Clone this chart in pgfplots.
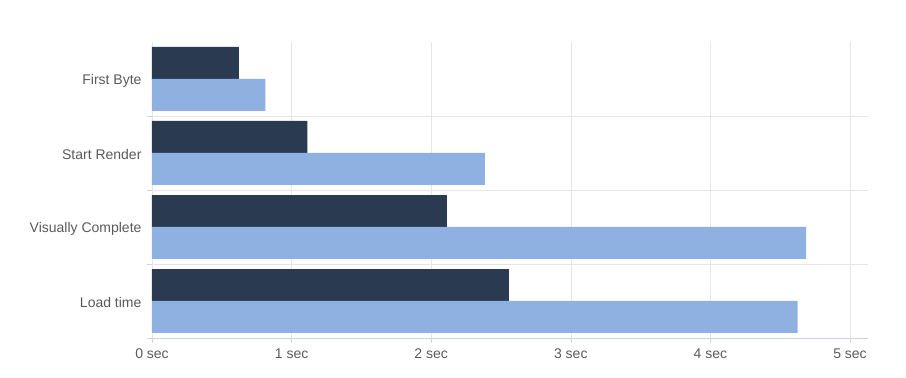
\documentclass[border=0pt]{standalone}
\usepackage{pgfplots}
\pgfplotsset{compat=1.18}
\usepackage{fontspec}
\setmainfont{Liberation Sans}
\definecolor{dark}{HTML}{2A3B51}
\definecolor{light}{HTML}{8EB1E1}
\definecolor{gridc}{HTML}{E6E6E6}
\definecolor{axisc}{HTML}{CCD6EB}
\definecolor{txt}{HTML}{5A5A5A}
\begin{document}
\begin{tikzpicture}
\begin{axis}[name=ax, scale only axis, width=716pt, height=296pt,
  xmin=0, xmax=5.129, ymin=-0.5, ymax=3.5, y dir=reverse,
  xbar, bar width=0.4324,
  axis x line*=bottom, axis y line*=left,
  x axis line style={draw=axisc, -}, y axis line style={draw=none, -},
  xtick={0,1,2,3,4,5},
  xticklabels={0 sec,1 sec,2 sec,3 sec,4 sec,5 sec},
  xmajorgrids, major x grid style={gridc},
  ytick={0,1,2,3},
  yticklabels={First Byte,Start Render,Visually Complete,Load time},
  minor ytick={0.5,1.5,2.5,3.5}, yminorgrids, minor y grid style={gridc},
  major y tick style={draw=none}, minor y tick style={axisc},
  x tick style={axisc}, tick align=outside,
  major tick length=5pt, minor tick length=5pt,
  ticklabel style={font=\fontsize{14}{16}\selectfont, text=txt},
  yticklabel style={xshift=-2pt, yshift=-1.5pt},
  xticklabel style={yshift=-2pt},
]
\addplot[fill=dark, draw=none, bar shift=-0.2162] coordinates {(0.623,0) (1.113,1) (2.113,2) (2.557,3)};
\addplot[fill=light, draw=none, bar shift=0.2162] coordinates {(0.813,0) (2.385,1) (4.685,2) (4.625,3)};
\end{axis}
\path ([shift={(-152pt,-40pt)}]ax.south west) rectangle ([shift={(38pt,42pt)}]ax.north east);
\end{tikzpicture}
\end{document}
